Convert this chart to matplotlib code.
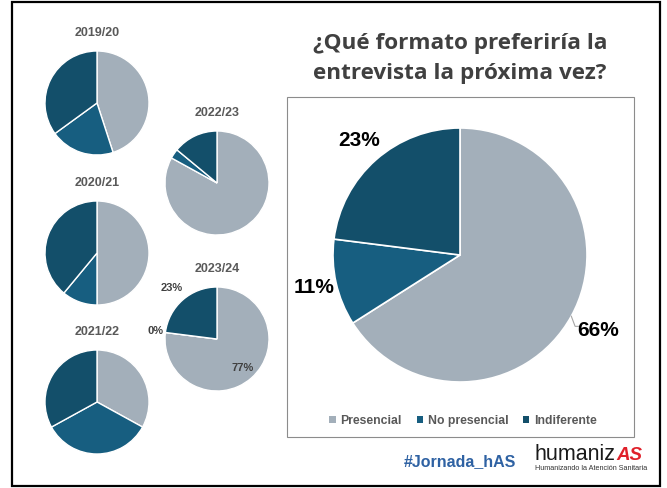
import matplotlib.pyplot as plt
from matplotlib.patches import Patch, Rectangle
import numpy as np

# Survey answers per academic year (percent)
seasons = ['2019/20', '2020/21', '2021/22', '2022/23', '2023/24']
presencial = [45, 50, 33, 83, 77]
no_presencial = [20, 11, 34, 3, 0]
indiferente = [35, 39, 33, 14, 23]

# Overall answers
categories = ['Presencial', 'No presencial', 'Indiferente']
overall = [66, 11, 23]

colors = ['#A3AFBA', '#175E80', '#134F6A']
W, H = 667, 488

plt.rcParams['font.family'] = ['Liberation Sans', 'DejaVu Sans']

fig = plt.figure(figsize=(W / 100, H / 100), dpi=100)
fig.patch.set_facecolor('white')


def px(x, y):
    return x / W, 1 - y / H


def pie_axes(cx, cy, r):
    return fig.add_axes([(cx - r) / W, 1 - (cy + r) / H, 2 * r / W, 2 * r / H])


def draw_pie(ax, values, lw=1.0):
    wedges, _ = ax.pie(values, colors=colors, startangle=90, counterclock=False,
                       wedgeprops=dict(edgecolor='white', linewidth=lw))
    ax.set_xlim(-1, 1)
    ax.set_ylim(-1, 1)
    ax.axis('off')
    return wedges


def mid_angle(w):
    return np.deg2rad((w.theta1 + w.theta2) / 2)


# small yearly pies
layout = {
    '2019/20': (97, 103),
    '2020/21': (97, 253),
    '2021/22': (97, 402),
    '2022/23': (217, 183),
    '2023/24': (217, 339),
}
r_small = 52
for i, season in enumerate(seasons):
    cx, cy = layout[season]
    ax = pie_axes(cx, cy, r_small)
    vals = [presencial[i], no_presencial[i], indiferente[i]]
    wedges = draw_pie(ax, vals)
    fig.text(*px(cx, cy - 70), season, ha='center', va='center',
             fontsize=9, fontweight='bold', color='#595959')
    if season == '2023/24':
        dists = [0.74, 1.2, 1.32]
        for w, v, d in zip(wedges, vals, dists):
            a = mid_angle(w)
            ax.text(d * np.cos(a), d * np.sin(a), f'{v}%', ha='center', va='center',
                    fontsize=8, fontweight='bold', color='#404040')

# main chart frame
fig.patches.append(Rectangle(px(287, 437), 347 / W, 340 / H, transform=fig.transFigure,
                             fill=False, edgecolor='#8C8C8C', linewidth=0.8))

ax_main = pie_axes(460, 255, 127)
wedges = draw_pie(ax_main, overall, lw=1.2)
dists = [1.24, 1.18, 1.2]
for w, v, d in zip(wedges, overall, dists):
    a = mid_angle(w)
    ax_main.text(d * np.cos(a), d * np.sin(a), f'{v}%', ha='center', va='center',
                 fontsize=15, fontweight='bold', color='black')

# leader line for the largest slice
a = mid_angle(wedges[0])
x0, y0 = 1.0 * np.cos(a), 1.0 * np.sin(a)
ax_main.plot([x0, x0 + 0.03, x0 + 0.06], [y0, y0 - 0.08, y0 - 0.08],
             color='#A6A6A6', linewidth=0.8, clip_on=False)

handles = [Patch(facecolor=c, edgecolor='none', label=l) for c, l in zip(colors, categories)]
fig.legend(handles=handles, loc='center', bbox_to_anchor=px(463, 421), ncol=3,
           frameon=False, handlelength=0.5, handleheight=0.5,
           handletextpad=0.4, columnspacing=1.2, labelcolor='#595959',
           prop=dict(weight='bold', size=8.8))

# title
title_font = ['Open Sans', 'Liberation Sans', 'DejaVu Sans']
fig.text(*px(460, 43), '¿Qué formato preferiría la', ha='center', va='center',
         fontsize=16.2, fontweight='bold', family=title_font, color='#404040')
fig.text(*px(460, 73), 'entrevista la próxima vez?', ha='center', va='center',
         fontsize=16.2, fontweight='bold', family=title_font, color='#404040')

# footer
fig.text(*px(460, 462), '#Jornada_hAS', ha='center', va='center',
         fontsize=11.5, fontweight='bold', color='#2F62A3')
fig.text(*px(535, 460), 'humaniz', ha='left', va='baseline', fontsize=15.5,
         color='#1A1A1A')
fig.text(*px(616, 460), 'AS', ha='left', va='baseline', fontsize=13.5,
         fontweight='bold', fontstyle='italic', color='#E0202A')
fig.text(*px(591, 469), 'Humanizando la Atención Sanitaria', ha='center', va='center',
         fontsize=5.2, color='#333333')

# outer frame
fig.patches.append(Rectangle(px(12, 486), 648 / W, 484 / H, transform=fig.transFigure,
                             fill=False, edgecolor='black', linewidth=1.6))

fig.savefig('out.png', dpi=100)
